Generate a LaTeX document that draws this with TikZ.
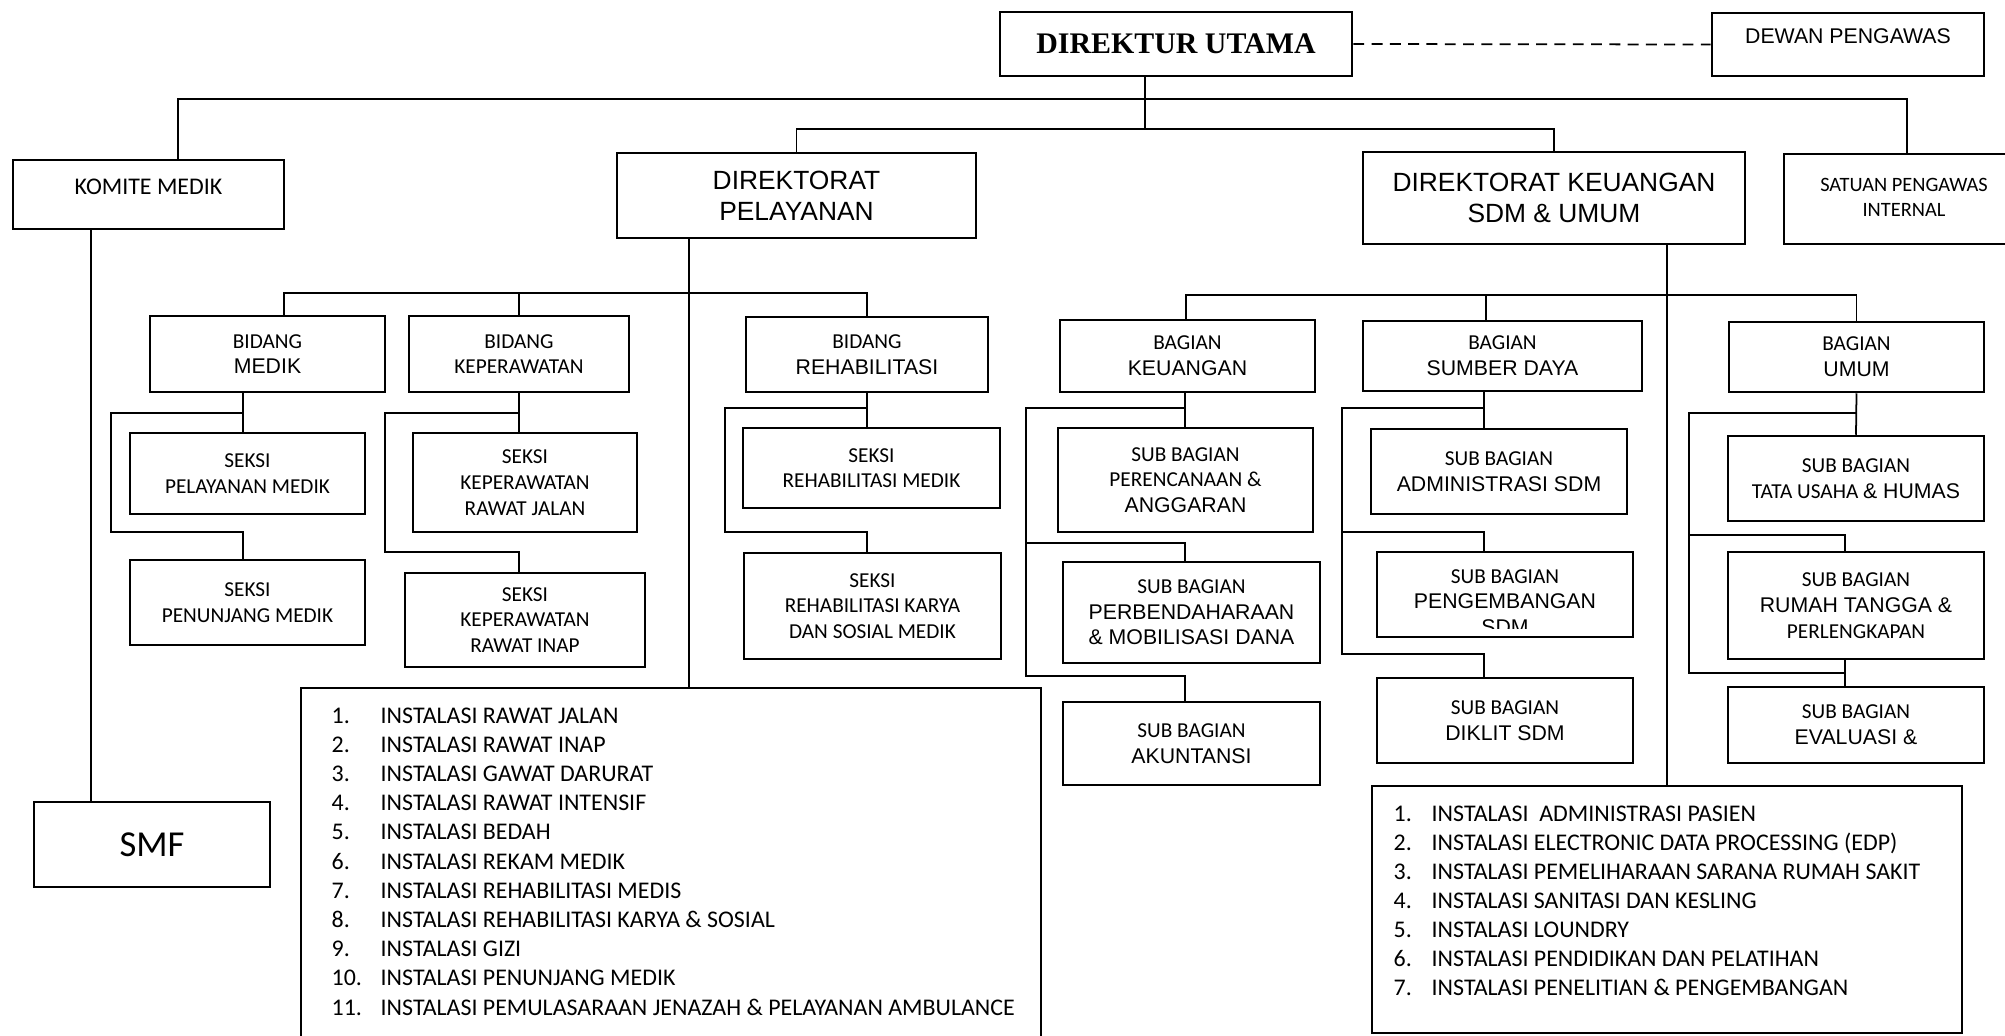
\documentclass[tikz,border=0pt]{standalone}
\usepackage{fontspec}
\setmainfont{Carlito}
\newfontfamily\carl{Carlito}
\newfontfamily\lsans{Liberation Sans}
\newfontfamily\lserif{Liberation Serif}
\newcommand\txc{\carl\fontsize{6.05}{7.3}\selectfont}
\newcommand\txa{\lsans\fontsize{6.05}{7.3}\selectfont}
\newcommand\txb{\lsans\fontsize{7.5}{8.7}\selectfont}
\newcommand\txl{\carl\fontsize{6.8}{8.3}\selectfont}

\begin{document}
\begin{tikzpicture} [x=0.01cm, y=-0.01cm,
        box/.style={draw, line width=0.7pt, inner sep=0pt, align=center, font=\txc},
        item/.style={anchor=base west, inner sep=0pt, font=\txl},
        link/.style={line width=0.5pt}]
            \useasboundingbox (0,0) rectangle (2005,1036);

            \node[box, minimum width=3.52cm, minimum height=0.64cm, font=\lserif\bfseries\fontsize{8.5}{10}\selectfont] (du) at (1176,44) {DIREKTUR UTAMA};
            \node[box, minimum width=2.72cm, minimum height=0.63cm, font=\txa] (dewan) at (1848,44.5) {\raisebox{0.17cm}{DEWAN PENGAWAS}};
            \node[box, minimum width=2.71cm, minimum height=0.69cm, font=\txl] (komite) at (148.5,194.5) {\raisebox{0.15cm}{KOMITE MEDIK}};
            \node[box, minimum width=3.59cm, minimum height=0.85cm, font=\txb] (dp) at (796.5,195.5) {DIREKTORAT\\PELAYANAN};
            \node[box, minimum width=3.82cm, minimum height=0.92cm, font=\txb] (dk) at (1554,198) {DIREKTORAT KEUANGAN\\SDM \& UMUM};
            \node[box, minimum width=2.40cm, minimum height=0.90cm, font=\carl\fontsize{5.8}{7.3}\selectfont] (spi) at (1904,199) {\raisebox{0.12cm}{\begin{tabular}{@{}c@{}}SATUAN PENGAWAS\\INTERNAL\end{tabular}}};
            \node[box, minimum width=2.36cm, minimum height=0.85cm, font=\carl\fontsize{10.4}{12}\selectfont] (smf) at (152,844.5) {SMF};

            \node[box, minimum width=2.35cm, minimum height=0.76cm] (bm) at (267.5,354) {BIDANG\\{\txa MEDIK}};
            \node[box, minimum width=2.20cm, minimum height=0.76cm] (bk) at (519,354) {BIDANG\\KEPERAWATAN};
            \node[box, minimum width=2.42cm, minimum height=0.75cm] (br) at (867,354.5) {BIDANG\\{\txa REHABILITASI}};

            \node[box, minimum width=2.35cm, minimum height=0.81cm] (spm) at (247.5,473.5) {SEKSI\\PELAYANAN MEDIK};
            \node[box, minimum width=2.35cm, minimum height=0.85cm] (spn) at (247.5,602.5) {SEKSI\\PENUNJANG MEDIK};
            \node[box, minimum width=2.24cm, minimum height=0.99cm] (skrj) at (525,482.5) {SEKSI\\KEPERAWATAN\\RAWAT JALAN};
            \node[box, minimum width=2.40cm, minimum height=0.94cm] (skri) at (525,620) {SEKSI\\KEPERAWATAN\\RAWAT INAP};
            \node[box, minimum width=2.57cm, minimum height=0.80cm] (srm) at (871.5,468) {SEKSI\\REHABILITASI MEDIK};
            \node[box, minimum width=2.57cm, minimum height=1.06cm] (srk) at (872.5,606) {SEKSI\\REHABILITASI KARYA\\DAN SOSIAL MEDIK};

            \node[box, minimum width=2.55cm, minimum height=0.72cm] (bku) at (1187.5,356) {BAGIAN\\{\txa KEUANGAN}};
            \node[box, minimum width=2.79cm, minimum height=0.70cm] (bsd) at (1502.5,356) {BAGIAN\\{\txa SUMBER DAYA}};
            \node[box, minimum width=2.55cm, minimum height=0.70cm] (bum) at (1856.5,357) {BAGIAN\\{\txa UMUM}};

            \node[box, minimum width=2.55cm, minimum height=1.04cm] (sbpa) at (1185.5,480) {SUB BAGIAN\\PERENCANAAN \&\\{\txa ANGGARAN}};
            \node[box, minimum width=2.57cm, minimum height=1.01cm] (sbpd) at (1191.5,612.5) {SUB BAGIAN\\{\txa PERBENDAHARAAN}\\{\txa \& MOBILISASI DANA}};
            \node[box, minimum width=2.57cm, minimum height=0.83cm] (sbak) at (1191.5,743.5) {SUB BAGIAN\\{\txa AKUNTANSI}};
            \node[box, minimum width=2.56cm, minimum height=0.85cm] (sbas) at (1499,471.5) {SUB BAGIAN\\{\txa ADMINISTRASI SDM}};
            \node[box, minimum width=2.56cm, minimum height=0.85cm] (sbps) at (1505,594.5) {};
            \begin{scope}
                \clip (sbps.north west) rectangle ([yshift=0.1cm]sbps.south east);
                \node[align=center, inner sep=0pt, font=\txc] (sbpst) at (1505,602) {SUB BAGIAN\\{\txa PENGEMBANGAN}\\{\txa SDM}};
            \end{scope}
            \node[box, minimum width=2.56cm, minimum height=0.85cm] (sbdk) at (1505,720.5) {SUB BAGIAN\\{\txa DIKLIT SDM}};
            \node[box, minimum width=2.56cm, minimum height=0.85cm] (sbtu) at (1856,478.5) {SUB BAGIAN\\TATA USAHA {\txa \& HUMAS}};
            \node[box, minimum width=2.56cm, minimum height=1.07cm] (sbrt) at (1856,605.5) {SUB BAGIAN\\{\txa RUMAH TANGGA \&}\\PERLENGKAPAN};
            \node[box, minimum width=2.56cm, minimum height=0.76cm] (sbev) at (1856,725) {SUB BAGIAN\\{\txa EVALUASI \&}};

            \node[box, minimum width=7.40cm, minimum height=3.57cm] (lsa) at (671,866.5) {};
            \node[box, minimum width=5.90cm, minimum height=2.47cm] (lsb) at (1667,909.5) {};

            \foreach \t [count=\i] in {INSTALASI RAWAT JALAN, INSTALASI RAWAT INAP, INSTALASI GAWAT DARURAT,
                    INSTALASI RAWAT INTENSIF, INSTALASI BEDAH, INSTALASI REKAM MEDIK, INSTALASI REHABILITASI MEDIS,
                    INSTALASI REHABILITASI KARYA \& SOSIAL, INSTALASI GIZI, INSTALASI PENUNJANG MEDIK,
                    INSTALASI PEMULASARAAN JENAZAH \& PELAYANAN AMBULANCE} {
                \node[item] (na\i) at (331,{723+29.2*(\i-1)}) {\i.};
                \node[item] (ta\i) at (380,{723+29.2*(\i-1)}) {\t};
            }
            \foreach \t [count=\i] in {INSTALASI\ \ ADMINISTRASI PASIEN, INSTALASI ELECTRONIC DATA PROCESSING (EDP),
                    INSTALASI PEMELIHARAAN SARANA RUMAH SAKIT, INSTALASI SANITASI DAN KESLING, INSTALASI LOUNDRY,
                    INSTALASI PENDIDIKAN DAN PELATIHAN, INSTALASI PENELITIAN \& PENGEMBANGAN} {
                \node[item] (nb\i) at (1393,{821+29*(\i-1)}) {\i.};
                \node[item] (tb\i) at (1431,{821+29*(\i-1)}) {\t};
            }

            \coordinate (tl) at (178,99);
            \coordinate (tr) at (1907,99);
            \coordinate (dj) at (1145,129);
            \coordinate (kv) at (91,500);
            \coordinate (pj) at (689,293);
            \coordinate (pa) at (284,293);
            \coordinate (ma) at (243,413);
            \coordinate (mb) at (111,532);
            \coordinate (ka) at (519,413);
            \coordinate (kb) at (385,552);
            \coordinate (ra) at (867,408);
            \coordinate (rb) at (725,532);
            \coordinate (qa) at (1186,295);
            \coordinate (qb) at (1486,295);
            \coordinate (ua) at (1185,408);
            \coordinate (ub) at (1026,543);
            \coordinate (uc) at (1026,676);
            \coordinate (sa) at (1484,408);
            \coordinate (sb) at (1342,532);
            \coordinate (sc) at (1342,654);
            \coordinate (va) at (1857,413);
            \coordinate (vb) at (1689,535);
            \coordinate (vc) at (1689,673);
            \coordinate (vd) at (1845,535);

            \draw[link, dash pattern=on 3.1pt off 2.1pt] (du.east) -- (dewan.west);
            \draw[link] (du.south -| dj) -- (dj);
            \draw[link] (komite.north -| tl) -- (tl) -- (tr) -- (spi.north -| tr);
            \draw[link] (dp.north) |- (dj) -| (dk.north);
            \draw[link] (komite.south -| kv) -- (smf.north -| kv);

            \draw[link] (dp.south -| pj) -- (lsa.north -| pj);
            \draw[link] (bm.north -| pa) -- (pa) -- (br.north |- pa) -- (br.north);
            \draw[link] (bk.north |- pa) -- (bk.north);
            \draw[link] (bm.south -| ma) -- (spm.north -| ma);
            \draw[link] (ma) -| (mb) -| (spn.north -| ma);
            \draw[link] (bk.south) -- (skrj.north -| bk.south);
            \draw[link] (ka) -| (kb) -| (skri.north -| ka);
            \draw[link] (br.south) -- (srm.north -| br.south);
            \draw[link] (ra) -| (rb) -| (srk.north -| ra);

            \draw[link] (dk.south -| lsb.north) -- (lsb.north);
            \draw[link] (bku.north -| qa) -- (qa) -- (bum.north |- qa) -- (bum.north);
            \draw[link] (qb) -- (bsd.north -| qb);
            \draw[link] (bku.south -| ua) -- (sbpa.north -| ua);
            \draw[link] (ua) -| (uc) -| (sbak.north -| ua);
            \draw[link] (ub) -| (sbpd.north -| ua);
            \draw[link] (bsd.south -| sa) -- (sbas.north -| sa);
            \draw[link] (sa) -| (sc) -| (sbdk.north -| sa);
            \draw[link] (sb) -| (sbps.north -| sa);
            \draw[link] (bum.south) -- (sbtu.north);
            \draw[link] (va) -| (vc) -| (sbev.north -| vd);
            \draw[link] (vb) -| (sbrt.north -| vd);
            \draw[link] (sbrt.south -| vd) -- (sbev.north -| vd);
        \end{tikzpicture}
\end{document}
